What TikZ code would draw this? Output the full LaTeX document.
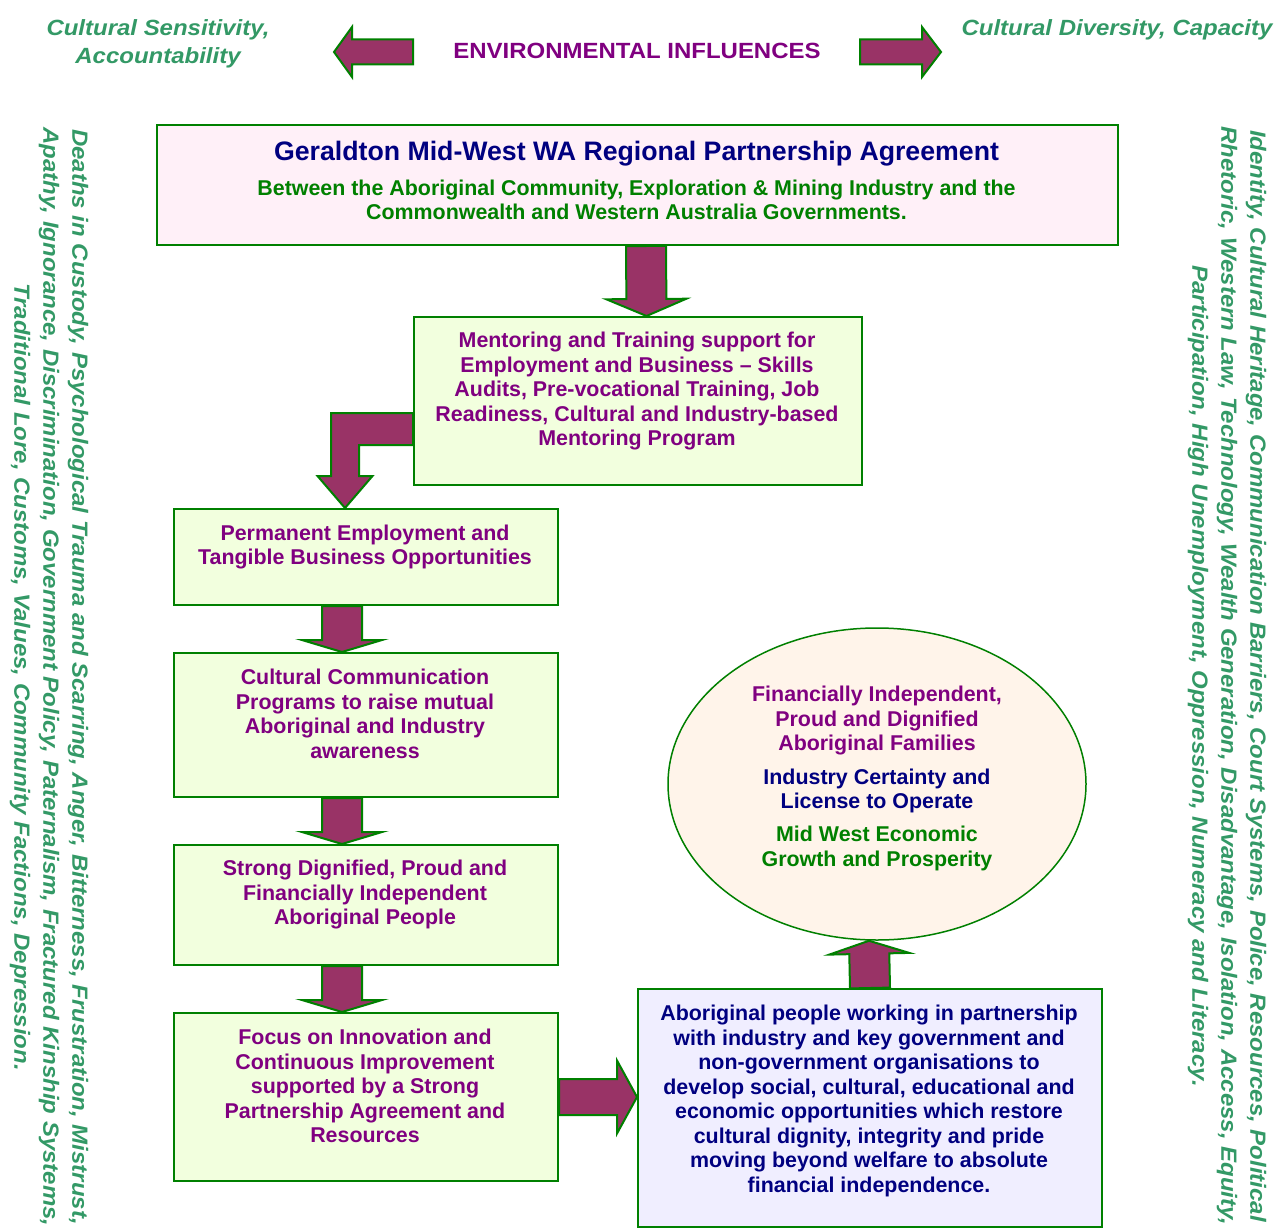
\documentclass[tikz,border=0pt]{standalone}
\usepackage{fontspec}
\setmainfont{Liberation Sans}
\newfontfamily\widefont[FakeStretch=1.09]{Liberation Sans}
\usetikzlibrary{calc,shapes.geometric}

\definecolor{arrowfill}{RGB}{153,51,102}
\definecolor{edgegreen}{RGB}{0,128,0}
\definecolor{txtpurple}{RGB}{128,0,128}
\definecolor{txtnavy}{RGB}{0,0,128}
\definecolor{txtgreen}{RGB}{0,128,0}
\definecolor{sidegreen}{RGB}{51,153,102}
\definecolor{fillpink}{RGB}{255,240,248}
\definecolor{fillgreen}{RGB}{242,255,222}
\definecolor{fillcream}{RGB}{255,244,234}
\definecolor{filllav}{RGB}{240,238,255}

\tikzset{
  box/.style={draw=edgegreen, line width=2pt, rectangle, inner sep=0pt, anchor=north west},
  blockarrow/.style={fill=arrowfill, draw=edgegreen, line width=2pt, line join=miter},
  body/.style={font=\bfseries\fontsize{21.4}{24.5}\selectfont, align=center, inner sep=0pt},
  sidetext/.style={text=sidegreen, font=\widefont\bfseries\itshape\fontsize{22}{29}\selectfont, align=center, inner sep=0pt},
}

% straight block arrow: from, to, head length, shaft half width, head half width
\newcommand\BlockArrow[5]{%
  \coordinate (hb) at ($(#2)!#3pt!(#1)$);
  \draw[blockarrow] ($(#1)!#4pt!90:(#2)$) -- ($(hb)!#4pt!90:(#2)$)
    -- ($(hb)!#5pt!90:(#2)$) -- (#2) -- ($(hb)!#5pt!-90:(#2)$)
    -- ($(hb)!#4pt!-90:(#2)$) -- ($(#1)!#4pt!-90:(#2)$) -- cycle;
}

\begin{document}
\begin{tikzpicture}[x=1pt,y=-1pt]
\useasboundingbox (0,0) rectangle (1276,1228);
\fill[white] (0,0) rectangle (1276,1228);

% header
\node[sidetext, font=\widefont\bfseries\itshape\fontsize{22}{28}\selectfont] (hdl) at (158,44) {Cultural Sensitivity,\\Accountability};
\node[sidetext] (hdr) at (1117,30) {Cultural Diversity, Capacity};
\node[text=txtpurple, font=\widefont\bfseries\fontsize{22}{26}\selectfont, inner sep=0pt] (env) at (637,51) {ENVIRONMENTAL INFLUENCES};
\coordinate (envLs) at (413,52);
\coordinate (envLe) at (334,52);
\coordinate (envRs) at (860,52);
\coordinate (envRe) at (941,52);
\BlockArrow{envLs}{envLe}{18}{12.5}{25}
\BlockArrow{envRs}{envRe}{19}{12.5}{25}

% side columns
\node[sidetext, rotate=-90] (leftside) at (49,677) {Deaths in Custody, Psychological Trauma and Scarring, Anger, Bitterness, Frustration, Mistrust,\\Apathy, Ignorance, Discrimination, Government Policy, Paternalism, Fractured Kinship Systems,\\Traditional Lore, Customs, Values, Community Factions, Depression.};
\node[sidetext, rotate=-90] (rightside) at (1227,676) {Identity, Cultural Heritage, Communication Barriers, Court Systems, Police, Resources, Political\\Rhetoric, Western Law, Technology, Wealth Generation, Disadvantage, Isolation, Access, Equity,\\Participation, High Unemployment, Oppression, Numeracy and Literacy.};

% boxes
\node[box, fill=fillpink, minimum width=961, minimum height=120] (top) at (156,124) {};
\node[box, fill=fillgreen, minimum width=448, minimum height=168] (mentor) at (413,316) {};
\node[box, fill=fillgreen, minimum width=384, minimum height=96] (perm) at (173,508) {};
\node[box, fill=fillgreen, minimum width=384, minimum height=144] (cult) at (173,652) {};
\node[box, fill=fillgreen, minimum width=384, minimum height=120] (strong) at (173,844) {};
\node[box, fill=fillgreen, minimum width=384, minimum height=168] (focus) at (173,1012) {};
\node[box, fill=filllav, minimum width=464, minimum height=238] (partner) at (637,988) {};
\node[ellipse, draw=edgegreen, line width=1.5pt, fill=fillcream, minimum width=418, minimum height=312, inner sep=0pt] (goal) at (877,784) {};

% box texts
\node[body, text=txtnavy, font=\bfseries\fontsize{26.7}{30}\selectfont] (titleT) at (636.5,154) {Geraldton Mid-West WA Regional Partnership Agreement};
\node[body, text=txtgreen, font=\bfseries\fontsize{21.4}{24}\selectfont] (subT) at (636.5,200) {Between the Aboriginal Community, Exploration \& Mining Industry and the\\Commonwealth and Western Australia Governments.};
\node[body, text=txtpurple] (mentorT) at (637,391.5) {Mentoring and Training support for\\Employment and Business – Skills\\Audits, Pre-vocational Training, Job\\Readiness, Cultural and Industry-based\\Mentoring Program};
\node[body, text=txtpurple] (permT) at (365,547) {Permanent Employment and\\Tangible Business Opportunities};
\node[body, text=txtpurple] (cultT) at (365,714) {Cultural Communication\\Programs to raise mutual\\Aboriginal and Industry\\awareness};
\node[body, text=txtpurple] (strongT) at (365,895) {Strong Dignified, Proud and\\Financially Independent\\Aboriginal People};
\node[body, text=txtpurple] (focusT) at (365,1086) {Focus on Innovation and\\Continuous Improvement\\supported by a Strong\\Partnership Agreement and\\Resources};
\node[body, text=txtnavy] (partnerT) at (869,1101) {Aboriginal people working in partnership\\with industry and key government and\\non-government organisations to\\develop social, cultural, educational and\\economic opportunities which restore\\cultural dignity, integrity and pride\\moving beyond welfare to absolute\\financial independence.};
\node[body, text=txtpurple] (goalA) at (877,721) {Financially Independent,\\Proud and Dignified\\Aboriginal Families};
\node[body, text=txtnavy] (goalB) at (877,791) {Industry Certainty and\\License to Operate};
\node[body, text=txtgreen] (goalC) at (877,848.5) {Mid West Economic\\Growth and Prosperity};

% connectors
\coordinate (a1s) at ($(top.south)+(8.5,0)$);
\coordinate (a1e) at ($(mentor.north)+(8.5,0)$);
\BlockArrow{a1s}{a1e}{17}{20}{40}

\coordinate (bs) at ($(mentor.west)+(0,28)$);
\coordinate (be) at ($(perm.north)+(-21,0)$);
\draw[blockarrow] let \p1=(bs), \p2=(be) in
  (\x1,\y1+16pt) -- (\x2-14pt,\y1+16pt) -- (\x2-14pt,\y2+32pt) -- (\x2-27.5pt,\y2+32pt)
  -- (\x2,\y2) -- (\x2+27.5pt,\y2+32pt) -- (\x2+14pt,\y2+32pt) -- (\x2+14pt,\y1-16pt)
  -- (\x1,\y1-16pt) -- cycle;

\coordinate (c1s) at ($(perm.south)+(-24,0)$);
\coordinate (c1e) at ($(cult.north)+(-24,0)$);
\BlockArrow{c1s}{c1e}{12}{20}{40}
\coordinate (c2s) at ($(cult.south)+(-24,0)$);
\coordinate (c2e) at ($(strong.north)+(-24,0)$);
\BlockArrow{c2s}{c2e}{12}{20}{40}
\coordinate (c3s) at ($(strong.south)+(-24,0)$);
\coordinate (c3e) at ($(focus.north)+(-24,0)$);
\BlockArrow{c3s}{c3e}{12}{20}{40}

\coordinate (rs) at (focus.east);
\coordinate (re) at (partner.west |- focus.east);
\BlockArrow{rs}{re}{20}{18}{36.5}

\coordinate (us) at (partner.north);
\coordinate (ue) at ($(goal.south)+(-8,0)$);
\BlockArrow{us}{ue}{13}{20}{40}
\end{tikzpicture}
\end{document}
